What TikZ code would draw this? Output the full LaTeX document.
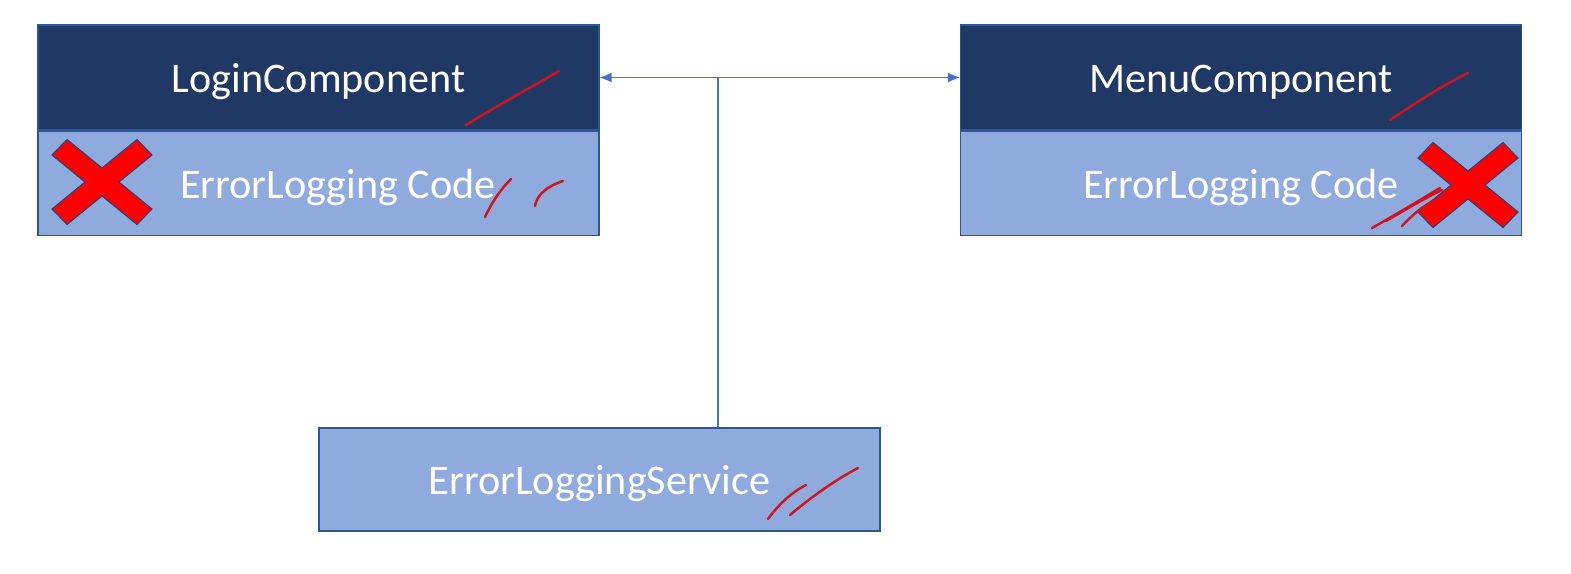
\documentclass[tikz,border=0pt]{standalone}
\usepackage{fontspec}
\setmainfont{Carlito}
\usetikzlibrary{positioning,arrows.meta}
\definecolor{navy}{HTML}{203864}
\definecolor{pale}{HTML}{8FAADC}
\definecolor{rim}{HTML}{2F5597}
\definecolor{wire}{HTML}{4472C4}
\definecolor{ink}{HTML}{D0141E}
\tikzset{
  part/.style={draw=rim,line width=0.6pt,minimum width=112.2mm,inner sep=0pt,
    text=white,font=\fontsize{24}{28}\selectfont,text height=17.6pt,text depth=0pt},
  head/.style={part,fill=navy,minimum height=21mm},
  body/.style={part,fill=pale,minimum height=20.8mm},
  scrawl/.style={draw=ink,line width=1.4pt,line cap=round},
}
\newcommand{\crossmark}[1]{%
  \draw[fill=red,draw=rim!80!black,line width=0.6pt,shift={#1}]
    (-50,-27)--(-35,-42.5)--(0,-14)--(35,-42.5)--(50,-27)--(17,0)--(50,27)
    --(35,42.5)--(0,14)--(-35,42.5)--(-50,27)--(-17,0)--cycle;}
\begin{document}
\begin{tikzpicture}[x=0.2mm,y=-0.2mm]
\useasboundingbox (0,0) rectangle (1571,573);
\node[head](login) at (318.5,77.5) {LoginComponent};
\node[body,below=0pt of login](loginCode) {\hspace*{7.8mm}ErrorLogging Code};
\node[head](menu) at (1241,77.5) {MenuComponent};
\node[body,below=0pt of menu](menuCode) {ErrorLogging Code};
\node[body,minimum height=20.6mm](service) at (599.5,479.5) {ErrorLoggingService};
\coordinate (jn) at (718,77.5);
\draw[wire,line width=0.8pt,{Latex[length=2.4mm,width=2mm]}-{Latex[length=2.4mm,width=2mm]}](login.east)--(menu.west);
\draw[wire,line width=0.8pt](jn)--(jn |- service.north);
\crossmark{(102,182)}
\crossmark{(1468,185)}
\draw[scrawl](466,125)..controls(500,104)and(530,88)..(559,71);
\draw[scrawl](485,217)..controls(493,200)and(502,188)..(511,179);
\draw[scrawl](535,206)..controls(537,194)and(548,186)..(563,181);
\draw[scrawl](1390,120)..controls(1420,100)and(1445,84)..(1468,73);
\draw[scrawl](1372,228)..controls(1395,215)and(1420,200)..(1440,188);
\draw[scrawl](1402,226)..controls(1415,212)and(1428,202)..(1445,195);
\draw[scrawl](1386,221)..controls(1405,210)and(1425,198)..(1442,190);
\draw[scrawl](768,519)..controls(778,505)and(792,492)..(806,485);
\draw[scrawl](790,515)..controls(810,498)and(835,480)..(858,468);
\end{tikzpicture}
\end{document}
